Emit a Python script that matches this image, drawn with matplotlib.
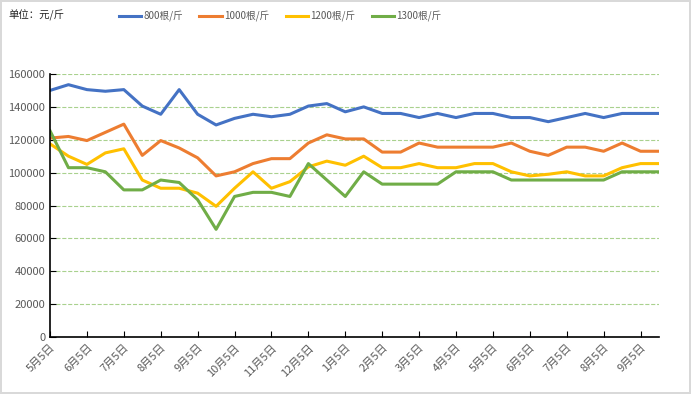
import matplotlib
matplotlib.use('Agg')
import matplotlib.pyplot as plt
from matplotlib.ticker import MultipleLocator

plt.rcParams['font.family'] = ['Noto Sans CJK SC', 'DejaVu Sans']

# half-monthly prices, 5月5日 .. 9月20日 of the following year
tick_labels = ['5月5日', '6月5日', '7月5日', '8月5日', '9月5日', '10月5日',
               '11月5日', '12月5日', '1月5日', '2月5日', '3月5日', '4月5日',
               '5月5日', '6月5日', '7月5日', '8月5日', '9月5日']

s800 = [150000, 153500, 150500, 149500, 150500, 140500, 135500, 150500, 135500,
        129000, 133000, 135500, 134000, 135500, 140500, 142000, 137000,
        140000, 136000, 136000, 133500, 136000, 133500, 136000, 136000,
        133500, 133500, 131000, 133500, 136000, 133500, 136000, 136000, 136000]
s1000 = [121000, 122000, 119500, 124500, 129500, 110500, 119500, 115000, 109000,
         98000, 100500, 105500, 108500, 108500, 118000, 123000, 120500,
         120500, 112500, 112500, 118000, 115500, 115500, 115500, 115500,
         118000, 113000, 110500, 115500, 115500, 113000, 118000, 113000, 113000]
s1200 = [117500, 110000, 105000, 112000, 114500, 95500, 90500, 90500, 87500,
         79500, 90500, 100500, 90500, 94500, 103500, 107000, 104500,
         110000, 103000, 103000, 105500, 103000, 103000, 105500, 105500,
         100500, 98000, 99000, 100500, 98000, 98000, 103000, 105500, 105500]
s1300 = [125500, 103000, 103000, 100500, 89500, 89500, 95500, 94000, 83500,
         65500, 85500, 88000, 88000, 85500, 105500, 95500, 85500,
         100500, 93000, 93000, 93000, 93000, 100500, 100500, 100500,
         95500, 95500, 95500, 95500, 95500, 95500, 100500, 100500, 100500]

series = [('800根/斤', s800, '#4472C4'),
          ('1000根/斤', s1000, '#ED7D31'),
          ('1200根/斤', s1200, '#FFC000'),
          ('1300根/斤', s1300, '#70AD47')]

fig = plt.figure(figsize=(6.91, 3.94), dpi=100)
fig.patch.set_edgecolor('#D9D9D9')
fig.patch.set_linewidth(1.5)
ax = fig.add_axes([50 / 691, 1 - 337 / 394, 609 / 691, 263 / 394])

x = list(range(len(s800)))
for name, vals, col in series:
    ax.plot(x, vals, color=col, linewidth=2.2, label=name)

ax.set_xlim(0, len(x) - 1)
ax.set_ylim(0, 160000)
ax.yaxis.set_major_locator(MultipleLocator(20000))
ax.set_xticks(range(0, len(x), 2))
ax.set_xticklabels(tick_labels, rotation=45, ha='right', va='top',
                   rotation_mode='anchor')
ax.tick_params(axis='both', direction='in', length=4, colors='black',
               labelcolor='#595959', labelsize=8)
ax.tick_params(axis='x', pad=4)
ax.grid(axis='y', linestyle='--', linewidth=0.8, color='#A9D18E', zorder=0)
for side in ['top', 'right']:
    ax.spines[side].set_visible(False)
for side in ['left', 'bottom']:
    ax.spines[side].set_linewidth(1.2)

fig.text(8 / 691, 1 - 15 / 394, '单位：元/斤', fontsize=7.5, color='#262626',
         va='center', ha='left')
fig.legend(loc='center', bbox_to_anchor=(280 / 691, 1 - 16 / 394), ncol=4,
           frameon=False, fontsize=7, handlelength=2.3, handletextpad=0.2,
           columnspacing=1.7, labelcolor='#595959')

fig.savefig('out.png', dpi=100)
